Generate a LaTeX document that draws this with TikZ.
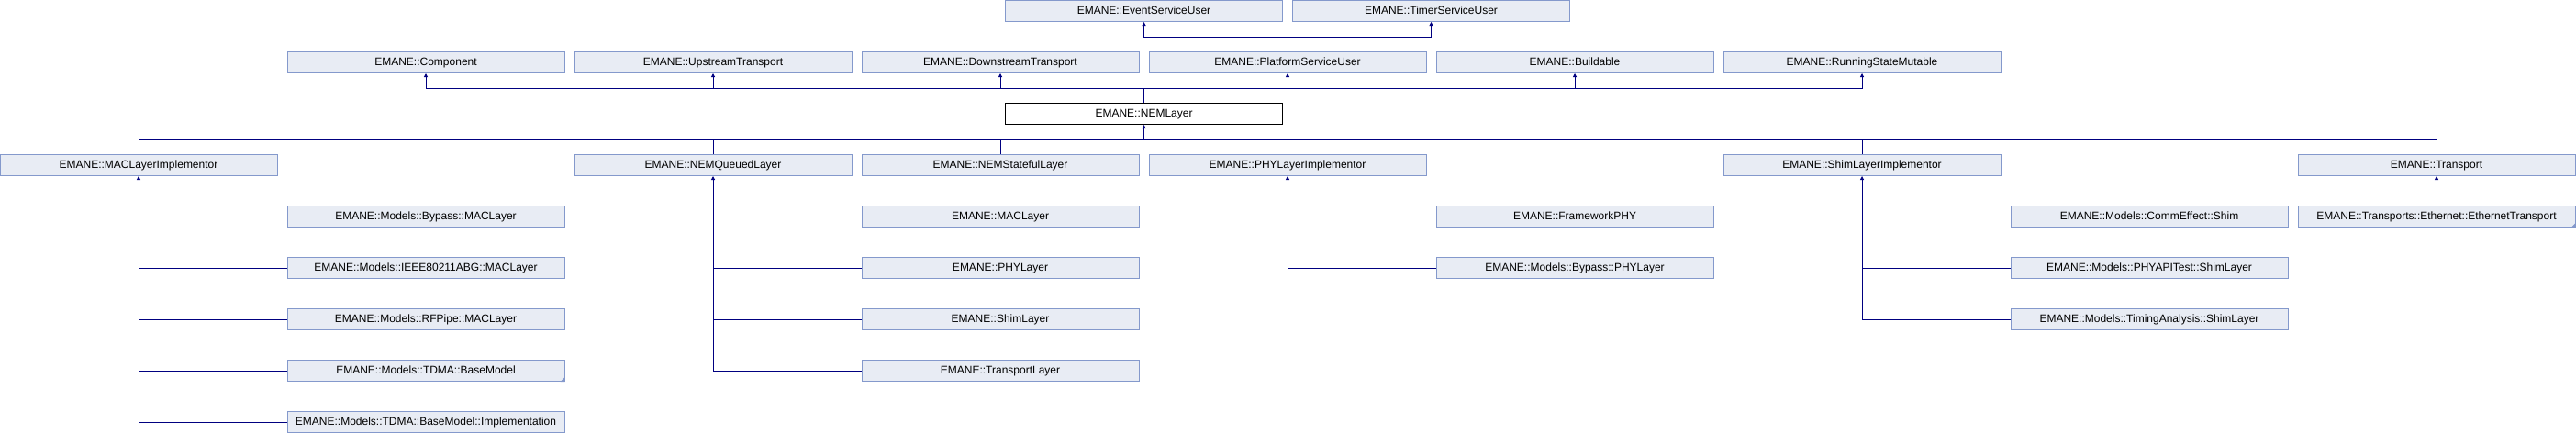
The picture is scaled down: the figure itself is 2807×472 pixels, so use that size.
\documentclass[tikz,border=0pt]{standalone}
\usepackage{fontspec}
\setmainfont{Liberation Sans}
\usetikzlibrary{arrows.meta}
\definecolor{dxline}{HTML}{000080}
\definecolor{dxfill}{HTML}{E8ECF4}
\definecolor{dxedge}{HTML}{8499CC}

\begin{document}
\begin{tikzpicture}[x=1pt,y=-1pt,
    cls/.style={draw=dxedge,fill=dxfill,line width=1pt,minimum width=302pt,minimum height=23pt,inner sep=0pt,text height=8.6pt,text depth=2pt,font=\fontsize{12}{14}\selectfont},
    cur/.style={cls,draw=black,fill=white},
    inh/.style={draw=dxline,line width=1pt},
    up/.style={inh,-{Triangle[length=4pt,width=4pt]}},
    more/.style={fill=dxedge}]
    \useasboundingbox (0,0) rectangle (2807,472);
    % base classes
    \node[cls] (event) at (1246.5,12) {EMANE::EventServiceUser};
    \node[cls] (timer) at (1559.5,12) {EMANE::TimerServiceUser};
    \node[cls] (component) at (464,68) {EMANE::Component};
    \node[cls] (upstream) at (777,68) {EMANE::UpstreamTransport};
    \node[cls] (downstream) at (1090,68) {EMANE::DownstreamTransport};
    \node[cls] (platform) at (1403,68) {EMANE::PlatformServiceUser};
    \node[cls] (buildable) at (1716,68) {EMANE::Buildable};
    \node[cls] (runstate) at (2029,68) {EMANE::RunningStateMutable};
    \node[cur] (nemlayer) at (1246.5,124) {EMANE::NEMLayer};
    % derived classes
    \node[cls] (macimpl) at (151,180) {EMANE::MACLayerImplementor};
    \node[cls] (nemqueued) at (777,180) {EMANE::NEMQueuedLayer};
    \node[cls] (nemstateful) at (1090,180) {EMANE::NEMStatefulLayer};
    \node[cls] (phyimpl) at (1403,180) {EMANE::PHYLayerImplementor};
    \node[cls] (shimimpl) at (2029,180) {EMANE::ShimLayerImplementor};
    \node[cls] (transport) at (2655,180) {EMANE::Transport};
    \node[cls] (bypassmac) at (464,236) {EMANE::Models::Bypass::MACLayer};
    \node[cls] (ieeemac) at (464,292) {EMANE::Models::IEEE80211ABG::MACLayer};
    \node[cls] (rfpipemac) at (464,348) {EMANE::Models::RFPipe::MACLayer};
    \node[cls] (tdmabase) at (464,404) {EMANE::Models::TDMA::BaseModel};
    \node[cls] (tdmaimpl) at (464,460) {EMANE::Models::TDMA::BaseModel::Implementation};
    \node[cls] (maclayer) at (1090,236) {EMANE::MACLayer};
    \node[cls] (phylayer) at (1090,292) {EMANE::PHYLayer};
    \node[cls] (shimlayer) at (1090,348) {EMANE::ShimLayer};
    \node[cls] (translayer) at (1090,404) {EMANE::TransportLayer};
    \node[cls] (frameworkphy) at (1716,236) {EMANE::FrameworkPHY};
    \node[cls] (bypassphy) at (1716,292) {EMANE::Models::Bypass::PHYLayer};
    \node[cls] (commeffect) at (2342,236) {EMANE::Models::CommEffect::Shim};
    \node[cls] (phyapitest) at (2342,292) {EMANE::Models::PHYAPITest::ShimLayer};
    \node[cls] (timing) at (2342,348) {EMANE::Models::TimingAnalysis::ShimLayer};
    \node[cls] (ethernet) at (2655,236) {EMANE::Transports::Ethernet::EthernetTransport};
    \fill[more] (tdmabase.south east) -- ++(-5,0) -- ++(5,-5) -- cycle;
    \fill[more] (ethernet.south east) -- ++(-5,0) -- ++(5,-5) -- cycle;
    % bus points
    \coordinate (psbus) at (1403,40.5);
    \coordinate (nembus) at (1246.5,96);
    \coordinate (layerbus) at (1246.5,152.5);
    % PlatformServiceUser
    \draw[inh] (platform.north) -- (psbus);
    \draw[up] (psbus) -| (event.south);
    \draw[up] (psbus) -| (timer.south);
    % NEMLayer
    \draw[inh] (nemlayer.north) -- (nembus);
    \draw[up] (nembus) -| (component.south);
    \draw[up] (nembus) -| (upstream.south);
    \draw[up] (nembus) -| (downstream.south);
    \draw[up] (nembus) -| (platform.south);
    \draw[up] (nembus) -| (buildable.south);
    \draw[up] (nembus) -| (runstate.south);
    \draw[up] (layerbus) -- (nemlayer.south);
    \draw[inh] (layerbus) -| (macimpl.north);
    \draw[inh] (layerbus) -| (nemqueued.north);
    \draw[inh] (layerbus) -| (nemstateful.north);
    \draw[inh] (layerbus) -| (phyimpl.north);
    \draw[inh] (layerbus) -| (shimimpl.north);
    \draw[inh] (layerbus) -| (transport.north);
    % MACLayerImplementor
    \draw[up] (tdmaimpl.west) -| (macimpl.south);
    \draw[inh] (bypassmac.west) -- (bypassmac.west -| macimpl.south);
    \draw[inh] (ieeemac.west) -- (ieeemac.west -| macimpl.south);
    \draw[inh] (rfpipemac.west) -- (rfpipemac.west -| macimpl.south);
    \draw[inh] (tdmabase.west) -- (tdmabase.west -| macimpl.south);
    % NEMQueuedLayer
    \draw[up] (translayer.west) -| (nemqueued.south);
    \draw[inh] (maclayer.west) -- (maclayer.west -| nemqueued.south);
    \draw[inh] (phylayer.west) -- (phylayer.west -| nemqueued.south);
    \draw[inh] (shimlayer.west) -- (shimlayer.west -| nemqueued.south);
    % PHYLayerImplementor
    \draw[up] (bypassphy.west) -| (phyimpl.south);
    \draw[inh] (frameworkphy.west) -- (frameworkphy.west -| phyimpl.south);
    % ShimLayerImplementor
    \draw[up] (timing.west) -| (shimimpl.south);
    \draw[inh] (commeffect.west) -- (commeffect.west -| shimimpl.south);
    \draw[inh] (phyapitest.west) -- (phyapitest.west -| shimimpl.south);
    % Transport
    \draw[up] (ethernet.north) -- (transport.south);
\end{tikzpicture}
\end{document}
